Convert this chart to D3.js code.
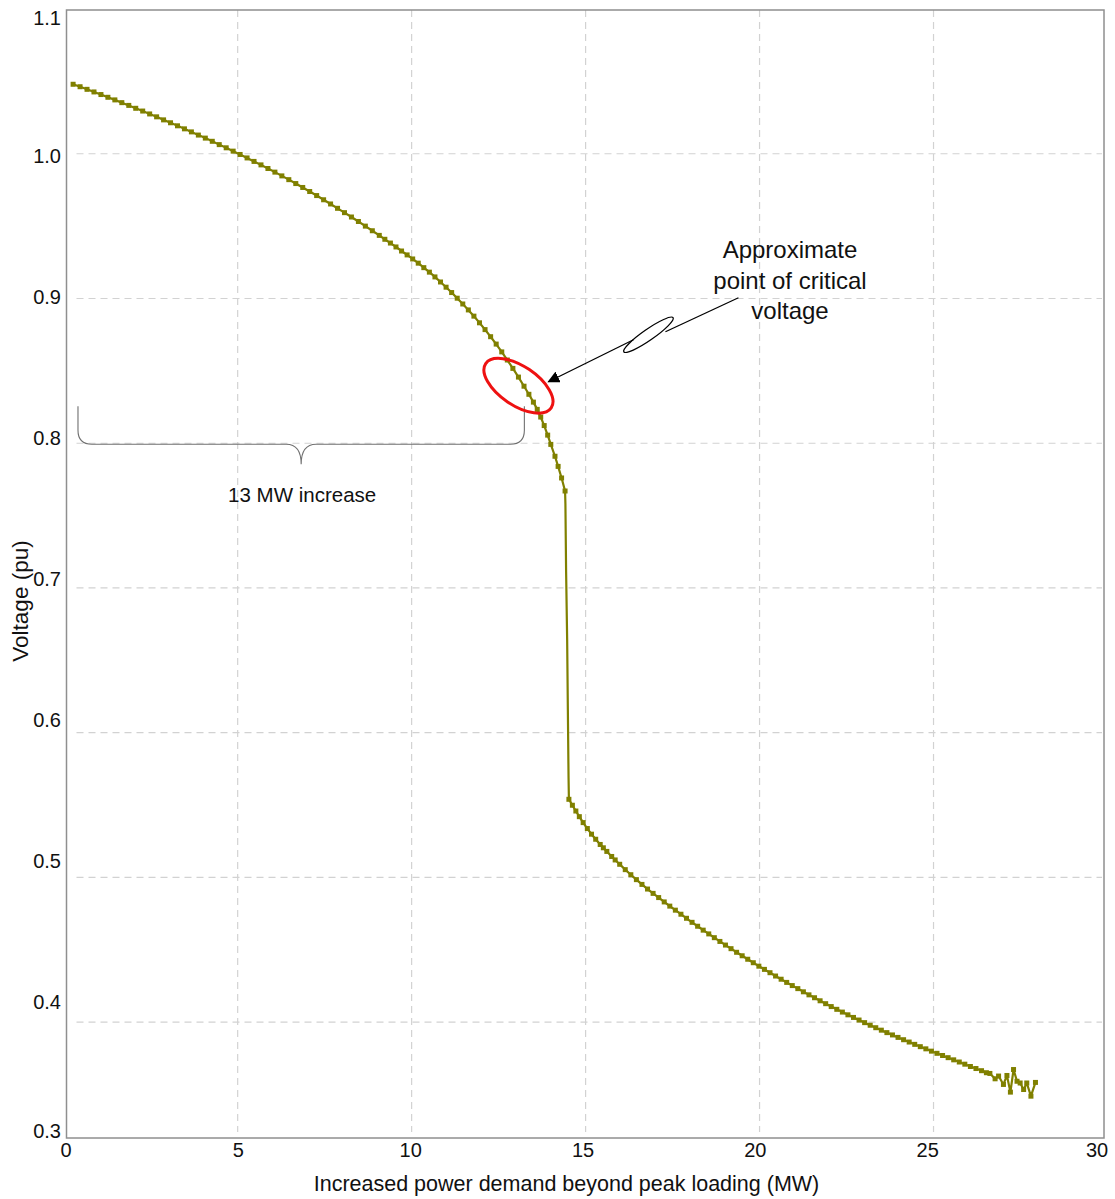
<!DOCTYPE html>
<html>
<head>
<meta charset="utf-8">
<script src="https://cdn.jsdelivr.net/npm/d3@7"></script>
<style>
  body { margin: 0; background: #fff; }
  svg { display: block; }
  text { font-family: "Liberation Sans", Arial, sans-serif; fill: #111; }
</style>
</head>
<body>
<svg id="chart" width="1115" height="1199"></svg>
<script>
// Voltage collapse curve: bus voltage versus extra load above peak demand.

// Stable (upper) branch of the PV curve
const upperMW = [0.27,0.47,0.67,0.87,1.07,1.27,1.47,1.67,1.87,2.07,2.27,2.47,2.67,2.87,3.07,3.27,3.47,3.67,3.87,4.07,4.27,4.47,4.67,4.87,5.07,5.27,5.47,5.67,5.87,6.07,6.27,6.47,6.67,6.87,7.07,7.27,7.47,7.67,7.87,8.07,8.27,8.47,8.67,8.87,9.07,9.23,9.39,9.55,9.71,9.87,10.03,10.19,10.35,10.51,10.67,10.83,10.99,11.15,11.31,11.47,11.63,11.79,11.95,12.11,12.27,12.43,12.59,12.75,12.91,13.07,13.23,13.37,13.5,13.61,13.71,13.81,13.91,14.0,14.12,14.21,14.31,14.41];
const upperV = [1.048,1.0463,1.0445,1.0427,1.0409,1.039,1.0372,1.0353,1.0334,1.0314,1.0295,1.0275,1.0255,1.0234,1.0214,1.0193,1.0172,1.0151,1.0129,1.0108,1.0086,1.0063,1.0041,1.0018,0.9995,0.9971,0.9947,0.9923,0.9898,0.9873,0.9847,0.9821,0.9794,0.9767,0.9739,0.9711,0.9682,0.9653,0.9623,0.9593,0.9563,0.9532,0.95,0.9468,0.9436,0.9409,0.9383,0.9356,0.9328,0.9301,0.9273,0.9244,0.9213,0.9182,0.9149,0.9114,0.9078,0.9041,0.9002,0.8962,0.8921,0.8878,0.8832,0.8785,0.8736,0.8685,0.8631,0.8575,0.8517,0.8457,0.8394,0.8338,0.8284,0.8234,0.8181,0.8122,0.8056,0.7992,0.791,0.784,0.776,0.767];

// Non-converged steps during the collapse (drawn without markers)
const collapseMW = [14.42,14.44,14.47,14.49,14.51];
const collapseV = [0.758,0.711,0.664,0.616,0.569];

// Post-collapse (lower) branch, including the oscillating tail
const lowerMW = [14.52,14.62,14.72,14.82,14.93,15.05,15.17,15.29,15.42,15.51,15.61,15.75,15.85,15.98,16.14,16.30,16.46,16.62,16.78,16.94,17.10,17.26,17.42,17.58,17.74,17.90,18.06,18.22,18.38,18.54,18.70,18.86,19.02,19.18,19.34,19.50,19.66,19.82,19.98,20.14,20.30,20.46,20.62,20.78,20.94,21.10,21.26,21.42,21.58,21.74,21.90,22.06,22.22,22.38,22.54,22.70,22.86,23.02,23.18,23.34,23.50,23.66,23.82,23.98,24.14,24.30,24.46,24.62,24.78,24.94,25.10,25.26,25.42,25.58,25.74,25.90,26.06,26.22,26.38,26.52,26.62,26.77,26.87,27.01,27.11,27.21,27.30,27.40,27.49,27.59,27.68,27.80,27.93];
const lowerV = [0.554,0.5499,0.5459,0.542,0.5379,0.5338,0.5299,0.5264,0.5228,0.5205,0.518,0.5145,0.5121,0.5091,0.5054,0.5019,0.4985,0.4952,0.492,0.489,0.4861,0.4831,0.4802,0.4774,0.4746,0.4718,0.469,0.4663,0.4636,0.461,0.4584,0.4558,0.4533,0.4508,0.4483,0.4459,0.4435,0.4411,0.4387,0.4365,0.4342,0.4319,0.4297,0.4275,0.4253,0.4232,0.421,0.4189,0.4169,0.4148,0.4128,0.4108,0.4089,0.407,0.4051,0.4033,0.4015,0.3997,0.3979,0.3962,0.3945,0.3928,0.3912,0.3895,0.3879,0.3863,0.3847,0.3831,0.3816,0.38,0.3785,0.377,0.3755,0.374,0.3725,0.371,0.3694,0.368,0.3665,0.3651,0.3646,0.3609,0.3628,0.357,0.3632,0.3517,0.3673,0.3592,0.358,0.3535,0.358,0.3489,0.3584];

// Axes
const xDomain = [0.08, 29.9];
const yDomain = [0.32, 1.1];
const xTickLabels = [0, 5, 10, 15, 20, 25, 30];
const yTickLabels = [0.3, 0.4, 0.5, 0.6, 0.7, 0.8, 0.9, 1.0, 1.1];
const xGrid = [5, 10, 15, 20, 25];
const yGrid = [0.4, 0.5, 0.6, 0.7, 0.8, 0.9, 1.0];

// Annotations
const criticalPoint = { mw: 13.07, v: 0.8397 };
const increaseSpan = [0.41, 13.24];
const increaseLabel = "13 MW increase";
const criticalLabel = ["Approximate", "point of critical", "voltage"];
const xTitle = "Increased power demand beyond peak loading (MW)";
const yTitle = "Voltage (pu)";

const svg = d3.select("#chart");
const plotLeft = 66.5, plotRight = 1104, plotTop = 9, plotBottom = 1138;
const x = d3.scaleLinear().domain(xDomain).range([plotLeft, plotRight]);
const y = d3.scaleLinear().domain(yDomain).range([plotBottom, plotTop]);
// tick labels are laid out on their own evenly spaced rulers along each axis
const xLab = d3.scaleLinear().domain([0, 30]).range([66, 1100]);
const yLab = d3.scaleLinear().domain([0.3, 1.1]).range([1142.5, 14.6]);

const olive = "#808000";
const frame = "#8f8f8f";
const gridColor = "#d2d2d2";

// Grid
svg.append("g").selectAll("line").data(xGrid).join("line")
  .attr("x1", d => x(d)).attr("x2", d => x(d))
  .attr("y1", plotTop + 1).attr("y2", plotBottom - 6)
  .attr("stroke", gridColor).attr("stroke-width", 1.2)
  .attr("stroke-dasharray", "7,5");
svg.append("g").selectAll("line").data(yGrid).join("line")
  .attr("x1", plotLeft + 10).attr("x2", plotRight - 2)
  .attr("y1", d => y(d)).attr("y2", d => y(d))
  .attr("stroke", gridColor).attr("stroke-width", 1.2)
  .attr("stroke-dasharray", "7,5");

// Plot frame
svg.append("rect")
  .attr("x", plotLeft).attr("y", plotTop + 1)
  .attr("width", plotRight - plotLeft).attr("height", plotBottom - plotTop - 1)
  .attr("fill", "none").attr("stroke", frame).attr("stroke-width", 1.5);

// Tick labels
const fmtY = d3.format(".1f");
const fmtX = d3.format(".0f");
svg.append("g").selectAll("text").data(yTickLabels).join("text")
  .attr("x", 61)
  .attr("y", d => Math.min(Math.max(yLab(d) + 7, 25), plotBottom))
  .attr("text-anchor", "end")
  .attr("font-size", 20)
  .text(d => fmtY(d));
svg.append("g").selectAll("text").data(xTickLabels).join("text")
  .attr("x", d => Math.min(xLab(d), 1097))
  .attr("y", 1157)
  .attr("text-anchor", "middle")
  .attr("font-size", 20)
  .text(d => fmtX(d));

// Axis titles
svg.append("text")
  .attr("x", 566.5).attr("y", 1191)
  .attr("text-anchor", "middle")
  .attr("font-size", 21.5)
  .text(xTitle);
svg.append("text")
  .attr("transform", "translate(28,601) rotate(-90)")
  .attr("text-anchor", "middle")
  .attr("font-size", 22.5)
  .text(yTitle);

// Curve
const upper = d3.zip(upperMW, upperV);
const collapse = d3.zip(collapseMW, collapseV);
const lower = d3.zip(lowerMW, lowerV);
const all = upper.concat(collapse, lower);

const line = d3.line().x(d => x(d[0])).y(d => y(d[1]));
svg.append("path")
  .attr("d", line(all))
  .attr("fill", "none")
  .attr("stroke", olive)
  .attr("stroke-width", 2.2)
  .attr("stroke-linejoin", "round");

const ms = 5;
svg.append("g").selectAll("rect").data(upper.concat(lower)).join("rect")
  .attr("x", d => x(d[0]) - ms / 2)
  .attr("y", d => y(d[1]) - ms / 2)
  .attr("width", ms).attr("height", ms)
  .attr("fill", olive);

// Brace spanning the load increase up to the critical point
{
  const xl = x(increaseSpan[0]), xr = x(increaseSpan[1]);
  const yh = y(0.8) + 1, yt = yh - 38, xm = (xl + xr) / 2, r = 14;
  const p = d3.path();
  p.moveTo(xl, yt);
  p.lineTo(xl, yh - r);
  p.quadraticCurveTo(xl, yh, xl + r, yh);
  p.lineTo(xm - 15, yh);
  p.bezierCurveTo(xm - 5, yh, xm, yh + 6, xm, yh + 20);
  p.bezierCurveTo(xm, yh + 6, xm + 5, yh, xm + 15, yh);
  p.lineTo(xr - r, yh);
  p.quadraticCurveTo(xr, yh, xr, yh - r);
  p.lineTo(xr, yt);
  svg.append("path").attr("d", p.toString())
    .attr("fill", "none").attr("stroke", "#707070").attr("stroke-width", 1.1);
  svg.append("text")
    .attr("x", xm + 1).attr("y", yh + 58)
    .attr("text-anchor", "middle")
    .attr("font-size", 20.5)
    .text(increaseLabel);
}

// Critical point highlight and callout
{
  const cx = x(criticalPoint.mw), cy = y(criticalPoint.v);
  svg.append("ellipse")
    .attr("transform", `translate(${cx},${cy}) rotate(34)`)
    .attr("rx", 39.5).attr("ry", 19.5)
    .attr("fill", "none").attr("stroke", "#ee1111").attr("stroke-width", 3);

  const defs = svg.append("defs");
  defs.append("marker")
    .attr("id", "arrow").attr("viewBox", "0 0 10 10")
    .attr("refX", 9).attr("refY", 5)
    .attr("markerWidth", 12).attr("markerHeight", 12)
    .attr("markerUnits", "userSpaceOnUse")
    .attr("orient", "auto")
    .append("path").attr("d", "M0,0 L10,5 L0,10 Z").attr("fill", "#000");

  const tipX = cx + 29, tipY = cy - 4;
  // zig-zag callout: upper segment, narrow loop, lower segment with arrowhead
  svg.append("path")
    .attr("d", `M${tipX + 191},${tipY - 84} L${tipX + 118},${tipY - 50}`)
    .attr("fill", "none").attr("stroke", "#000").attr("stroke-width", 1.3);
  svg.append("ellipse")
    .attr("transform", `translate(${tipX + 101},${tipY - 47}) rotate(-34.8)`)
    .attr("rx", 30).attr("ry", 5.5)
    .attr("fill", "none").attr("stroke", "#000").attr("stroke-width", 1.3);
  svg.append("path")
    .attr("d", `M${tipX + 86},${tipY - 42} L${tipX + 1},${tipY}`)
    .attr("fill", "none").attr("stroke", "#000").attr("stroke-width", 1.3)
    .attr("marker-end", "url(#arrow)");

  svg.append("g").selectAll("text").data(criticalLabel).join("text")
    .attr("x", 790)
    .attr("y", (d, i) => 258 + i * 30.5)
    .attr("text-anchor", "middle")
    .attr("font-size", 24)
    .text(d => d);
}
</script>
</body>
</html>
